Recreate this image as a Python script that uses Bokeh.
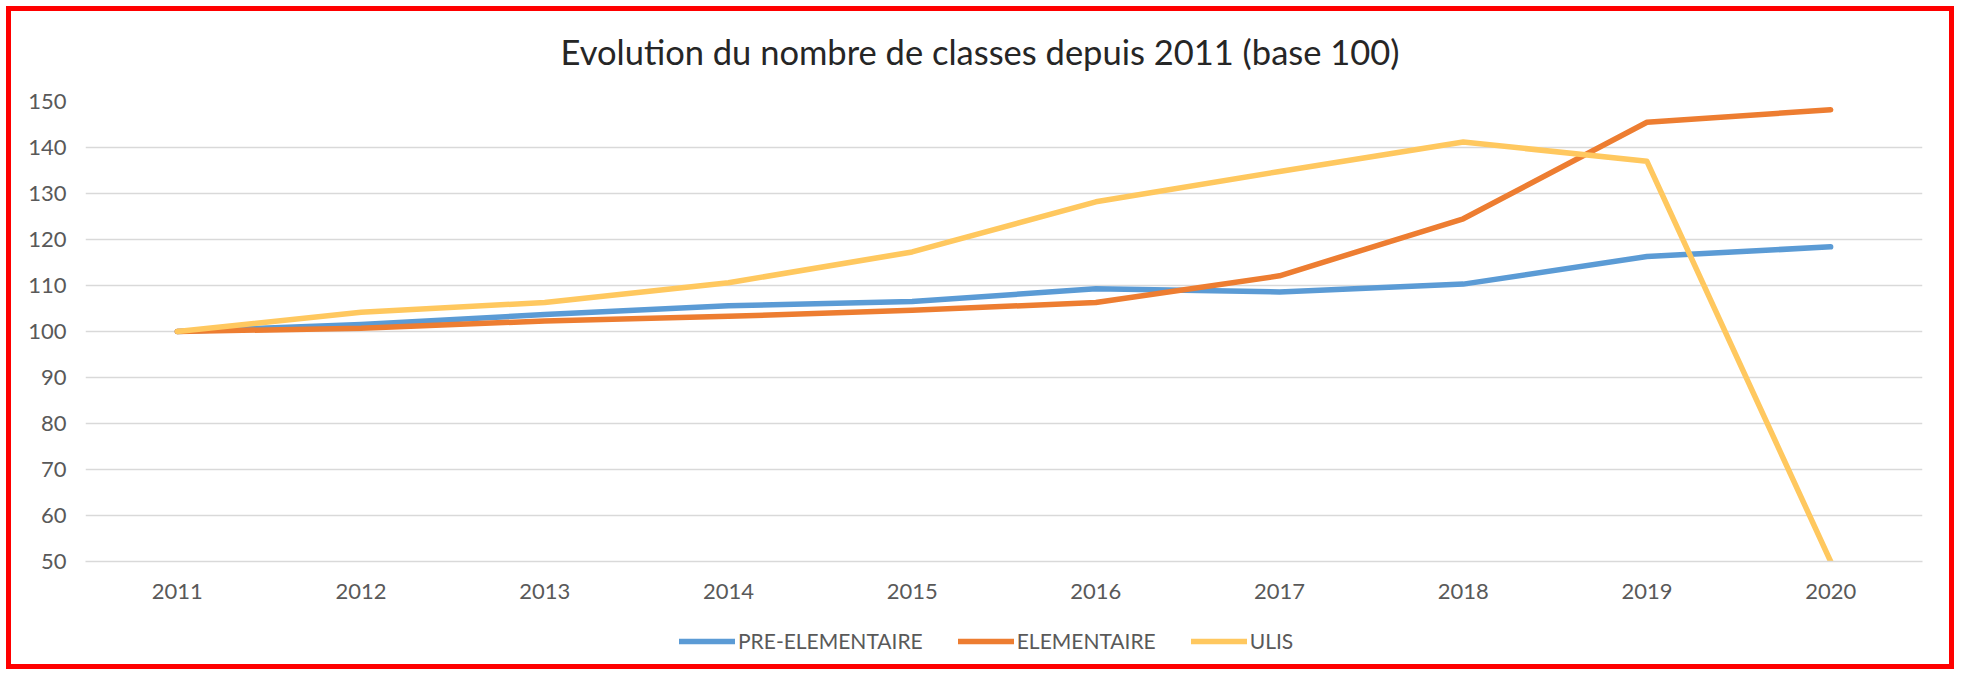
from bokeh.plotting import figure
from bokeh.layouts import column
from bokeh.models import Range1d, FixedTicker, Legend, LegendItem, Title
from bokeh.embed import file_html
from bokeh.resources import INLINE

years = ["2011", "2012", "2013", "2014", "2015", "2016", "2017", "2018", "2019", "2020"]
pre_elementaire = [100, 101.5, 103.7, 105.6, 106.5, 109.3, 108.6, 110.3, 116.3, 118.4]
elementaire = [100, 100.7, 102.3, 103.3, 104.6, 106.3, 112.1, 124.5, 145.5, 148.2]
ulis = [100, 104.2, 106.3, 110.6, 117.3, 128.2, 134.8, 141.2, 137.0, 50.0]
series_names = ["PRE-ELEMENTAIRE", "ELEMENTAIRE", "ULIS"]
series_colors = ["#5B9BD5", "#ED7D31", "#FFC85F"]
y_ticks = [50, 60, 70, 80, 90, 100, 110, 120, 130, 140, 150]
title_text = "Evolution du nombre de classes depuis 2011 (base 100)"

FONT = "Lato"
GRAY = "#595959"
series = [pre_elementaire, elementaire, ulis]

# ---- main chart ----
p = figure(x_range=years, y_range=Range1d(50, 150),
           frame_width=1837, frame_height=460,
           min_border_left=85, min_border_right=38, min_border_top=101, min_border_bottom=64,
           output_backend="svg", toolbar_location=None, tools="")
p.outline_line_color = None
p.background_fill_color = "white"
p.border_fill_color = None

t = Title(text=title_text, align="left", vertical_align="top", text_font=FONT,
          text_font_size="34.5px", text_font_style="normal", text_color="#262626",
          offset=475, standoff=55)
p.add_layout(t, "above")

p.xgrid.grid_line_color = None
p.ygrid.grid_line_color = "#D9D9D9"
p.ygrid.grid_line_width = 1.5

p.yaxis.ticker = FixedTicker(ticks=y_ticks)
for ax in (p.xaxis, p.yaxis):
    ax.major_tick_line_color = None
    ax.minor_tick_line_color = None
    ax.major_tick_out = 0
    ax.major_tick_in = 0
    ax.minor_tick_out = 0
    ax.minor_tick_in = 0
    ax.major_label_text_font = FONT
    ax.major_label_text_font_size = "22px"
    ax.major_label_text_color = GRAY
p.yaxis.major_label_standoff = 19
p.xaxis.major_label_standoff = 22
p.yaxis.axis_line_color = None
p.xaxis.axis_line_color = "#D9D9D9"
p.xaxis.axis_line_width = 1.5

for vals, color in zip(series, series_colors):
    p.line(years, vals, line_color=color, line_width=5.5, line_cap="round", line_join="round")

# ---- legend strip (series drawn out of view, only their legend glyphs show) ----
pl = figure(x_range=years, y_range=Range1d(1000, 1001),
            width=1960, height=50, min_border=0,
            output_backend="svg", toolbar_location=None, tools="")
pl.axis.visible = False
pl.grid.grid_line_color = None
pl.outline_line_color = None
pl.background_fill_color = None
pl.border_fill_color = None

items = []
for name, vals, color in zip(series_names, series, series_colors):
    r = pl.line(years, vals, line_color=color, line_width=5.5, line_cap="round")
    items.append(LegendItem(label=name, renderers=[r]))

legend = Legend(items=items, orientation="horizontal", location=(594, 22),
                glyph_width=56, glyph_height=20, label_standoff=3, spacing=35,
                label_text_font=FONT, label_text_font_size="21px", label_text_color=GRAY,
                border_line_alpha=0, background_fill_alpha=0, padding=0, margin=0)
pl.add_layout(legend, "center")

layout = column(p, pl, spacing=0)
layout.styles = {"box-shadow": "inset 0 0 0 6px #ffffff, inset 0 0 0 11px #ff0000",
                 "background-color": "#ffffff"}

open("out.html", "w").write(file_html(layout, INLINE))
